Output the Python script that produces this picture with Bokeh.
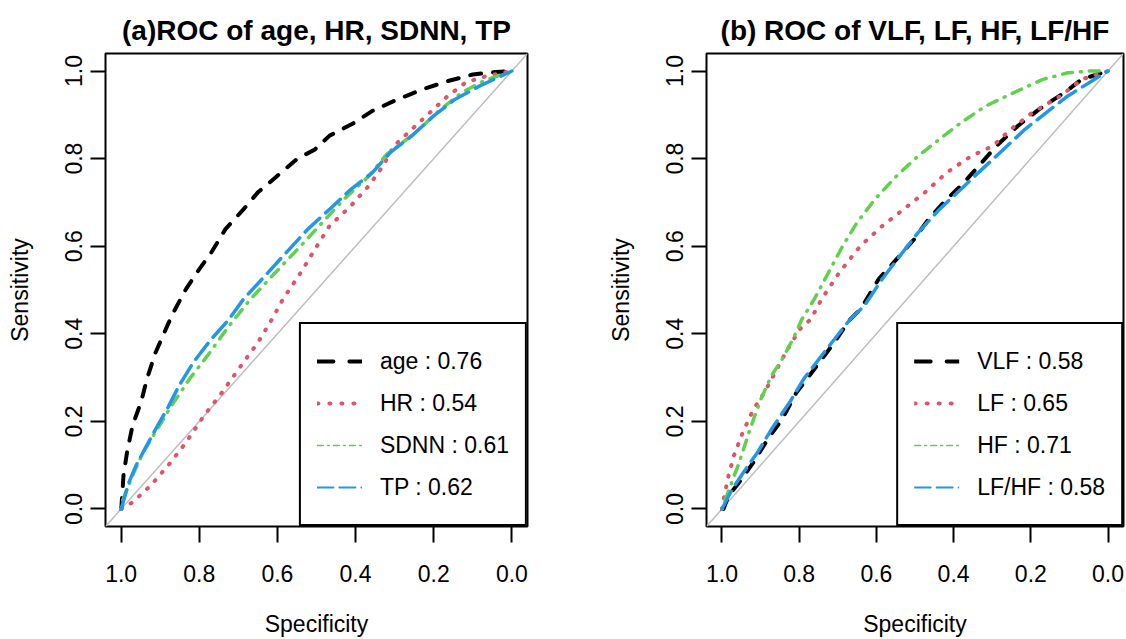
from bokeh.plotting import figure
from bokeh.models import Range1d, FixedTicker, PrintfTickFormatter, Legend, LegendItem, Slope
from bokeh.layouts import row
from bokeh.embed import file_html
from bokeh.resources import INLINE

# ---------------- data ----------------
ticks = [0.0, 0.2, 0.4, 0.6, 0.8, 1.0]

# panel (a)
names_a = ["age", "HR", "SDNN", "TP"]
auc_a = [0.76, 0.54, 0.61, 0.62]

age_spec = [1.0, 0.999, 0.994, 0.985, 0.971, 0.948, 0.934, 0.912, 0.880, 0.866, 0.834, 0.806, 0.769, 0.733,
            0.687, 0.650, 0.605, 0.550, 0.504, 0.467, 0.403, 0.357, 0.293, 0.229, 0.164, 0.100, 0.063, 0.0]
age_sens = [0.0, 0.008, 0.076, 0.129, 0.190, 0.247, 0.297, 0.357, 0.422, 0.449, 0.502, 0.540, 0.586, 0.639,
            0.684, 0.723, 0.757, 0.799, 0.821, 0.852, 0.882, 0.909, 0.935, 0.958, 0.977, 0.992, 0.996, 1.0]

hr_spec = [1.0, 0.971, 0.925, 0.880, 0.834, 0.788, 0.742, 0.687, 0.650, 0.614, 0.586, 0.540, 0.504, 0.467,
           0.412, 0.366, 0.330, 0.302, 0.256, 0.210, 0.164, 0.118, 0.063, 0.0]
hr_sens = [0.0, 0.015, 0.053, 0.099, 0.152, 0.213, 0.266, 0.335, 0.380, 0.433, 0.479, 0.540, 0.593, 0.646,
           0.692, 0.738, 0.783, 0.829, 0.867, 0.905, 0.943, 0.974, 0.989, 1.0]

sdnn_spec = [1.0, 0.998, 0.971, 0.944, 0.907, 0.871, 0.825, 0.779, 0.724, 0.669, 0.605, 0.540, 0.485, 0.430,
             0.366, 0.320, 0.247, 0.192, 0.128, 0.073, 0.0]
sdnn_sens = [0.0, 0.015, 0.076, 0.129, 0.183, 0.236, 0.297, 0.350, 0.418, 0.479, 0.540, 0.601, 0.654, 0.707,
             0.760, 0.810, 0.859, 0.905, 0.951, 0.977, 1.0]

tp_spec = [1.0, 0.980, 0.962, 0.935, 0.907, 0.880, 0.852, 0.815, 0.769, 0.724, 0.687, 0.632, 0.577, 0.522,
           0.467, 0.412, 0.357, 0.311, 0.256, 0.201, 0.146, 0.082, 0.0]
tp_sens = [0.0, 0.061, 0.099, 0.144, 0.190, 0.232, 0.281, 0.335, 0.388, 0.433, 0.479, 0.532, 0.586, 0.639,
           0.684, 0.730, 0.768, 0.814, 0.852, 0.897, 0.935, 0.966, 1.0]

# panel (b)
names_b = ["VLF", "LF", "HF", "LF/HF"]
auc_b = [0.58, 0.65, 0.71, 0.58]

vlf_spec = [1.0, 0.996, 0.983, 0.955, 0.918, 0.881, 0.844, 0.807, 0.761, 0.715, 0.668, 0.641, 0.594, 0.548,
            0.502, 0.465, 0.418, 0.381, 0.335, 0.289, 0.233, 0.178, 0.113, 0.068, 0.0]
vlf_sens = [0.0, 0.0, 0.030, 0.061, 0.107, 0.160, 0.205, 0.266, 0.319, 0.373, 0.433, 0.456, 0.525, 0.570,
            0.616, 0.662, 0.707, 0.738, 0.783, 0.829, 0.875, 0.913, 0.951, 0.981, 1.0]

lf_spec = [1.0, 0.992, 0.983, 0.969, 0.946, 0.918, 0.890, 0.862, 0.835, 0.798, 0.770, 0.742, 0.696, 0.641,
           0.585, 0.530, 0.474, 0.418, 0.354, 0.298, 0.252, 0.196, 0.123, 0.068, 0.0]
lf_sens = [0.0, 0.038, 0.076, 0.122, 0.175, 0.228, 0.266, 0.312, 0.357, 0.411, 0.433, 0.479, 0.540, 0.601,
           0.646, 0.684, 0.723, 0.768, 0.806, 0.829, 0.867, 0.905, 0.943, 0.981, 1.0]

hf_spec = [1.0, 0.978, 0.955, 0.927, 0.899, 0.872, 0.844, 0.816, 0.793, 0.761, 0.724, 0.687, 0.650, 0.604,
           0.548, 0.492, 0.437, 0.381, 0.317, 0.243, 0.169, 0.104, 0.048, 0.0]
hf_sens = [0.0, 0.053, 0.107, 0.183, 0.251, 0.304, 0.342, 0.388, 0.433, 0.479, 0.540, 0.601, 0.654, 0.707,
           0.760, 0.806, 0.844, 0.882, 0.920, 0.951, 0.981, 0.996, 1.0, 1.0]

lfhf_spec = [1.0, 0.973, 0.944, 0.908, 0.871, 0.825, 0.788, 0.742, 0.695, 0.668, 0.631, 0.585, 0.539, 0.492,
             0.437, 0.381, 0.326, 0.271, 0.215, 0.160, 0.104, 0.048, 0.0]
lfhf_sens = [0.0, 0.046, 0.084, 0.129, 0.183, 0.243, 0.297, 0.350, 0.403, 0.433, 0.464, 0.525, 0.578, 0.631,
             0.684, 0.730, 0.776, 0.821, 0.867, 0.905, 0.943, 0.974, 1.0]

# ---------------- styles ----------------
FONT = "Liberation Sans"
COLORS = ["#000000", "#DF536B", "#61D04F", "#2297E6"]
PLOT_DASH = ["11 12", "1 10", "1 8 10 8", "20 8"]
PLOT_W = [4, 4, 3.5, 3.5]
LEG_DASH = ["16 16", "1 11", "6 4 2 4", "16 6"]
LEG_W = [4, 4, 1.5, 2]
NAN = float("nan")


def make_panel(title, names, aucs, curves, width, border_left, border_right):
    p = figure(width=width, height=639, output_backend="svg", toolbar_location=None,
               x_range=Range1d(1.04, -0.04), y_range=Range1d(-0.04, 1.04),
               min_border_left=border_left, min_border_right=border_right,
               min_border_top=53, min_border_bottom=111)
    p.xgrid.visible = False
    p.ygrid.visible = False
    p.outline_line_color = "black"
    p.outline_line_width = 2
    p.outline_line_alpha = 1

    p.title.text = title
    p.title.align = "center"
    p.title.text_font = FONT
    p.title.text_font_size = "28px"
    p.title.text_font_style = "bold"
    p.title.text_color = "black"
    p.title.standoff = 16

    for ax in (p.xaxis[0], p.yaxis[0]):
        ax.ticker = FixedTicker(ticks=ticks)
        ax.formatter = PrintfTickFormatter(format="%.1f")
        ax.axis_line_color = None
        ax.major_tick_in = 0
        ax.major_tick_line_width = 2
        ax.major_tick_line_color = "black"
        ax.minor_tick_line_color = None
        ax.major_label_text_font = FONT
        ax.major_label_text_font_size = "23px"
        ax.major_label_text_color = "black"
        ax.axis_label_text_font = FONT
        ax.axis_label_text_font_size = "23px"
        ax.axis_label_text_font_style = "normal"
        ax.axis_label_text_color = "black"

    xa = p.xaxis[0]
    xa.axis_label = "Specificity"
    xa.major_tick_out = 16
    xa.major_label_standoff = 22
    xa.axis_label_standoff = 26

    ya = p.yaxis[0]
    ya.axis_label = "Sensitivity"
    ya.major_tick_out = 15
    ya.major_label_orientation = "vertical"
    ya.major_label_standoff = 8
    ya.axis_label_standoff = 30

    diag = Slope(gradient=-1, y_intercept=1, line_color="#BEBEBE", line_width=1.5, level="underlay")
    p.add_layout(diag)

    items = []
    for i, (sx, sy) in enumerate(curves):
        p.line(sx, sy, line_color=COLORS[i], line_width=PLOT_W[i], line_dash=PLOT_DASH[i],
               line_cap="round", line_join="round")
    for i, name in enumerate(names):
        r = p.line(x=[NAN, NAN], y=[NAN, NAN], line_color=COLORS[i], line_width=LEG_W[i],
                   line_dash=LEG_DASH[i], line_cap="round")
        items.append(LegendItem(label=f"{name} : {aucs[i]:.2f}", renderers=[r]))

    leg = Legend(items=items, location="bottom_right", margin=0, padding=16, spacing=0,
                 label_height=42, glyph_height=42, glyph_width=45, label_standoff=18,
                 border_line_color="black", border_line_width=2, border_line_alpha=1,
                 background_fill_color="white", background_fill_alpha=1,
                 label_text_font=FONT, label_text_font_size="23px", label_text_color="black")
    p.add_layout(leg)
    return p


p1 = make_panel("(a)ROC of age, HR, SDNN, TP", names_a, auc_a,
                [(age_spec, age_sens), (hr_spec, hr_sens), (sdnn_spec, sdnn_sens), (tp_spec, tp_sens)],
                604, 105, 77)
p2 = make_panel("(b) ROC of VLF, LF, HF, LF/HF", names_b, auc_b,
                [(vlf_spec, vlf_sens), (lf_spec, lf_sens), (hf_spec, hf_sens), (lfhf_spec, lfhf_sens)],
                522, 97, 3)

layout = row(p1, p2)
open("out.html", "w").write(file_html(layout, INLINE))
